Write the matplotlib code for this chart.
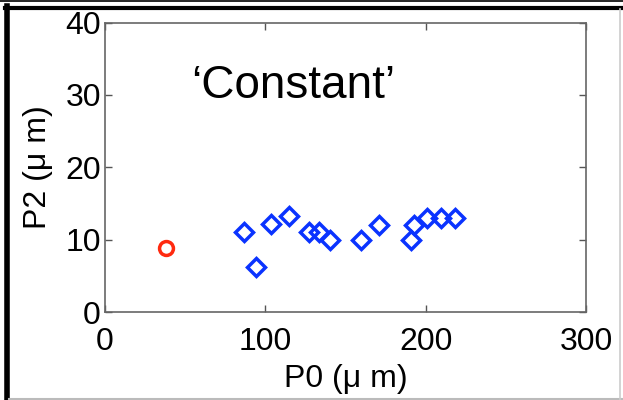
import matplotlib
matplotlib.use("Agg")
import matplotlib.pyplot as plt
from matplotlib.lines import Line2D

# ---- data ----
ref_p0 = [37.8]
ref_p2 = [8.9]

p0 = [86.5, 94.4, 103.3, 114.9, 127.0, 133.4, 140.4, 159.7, 170.9, 190.7, 192.9, 200.8, 209.7, 218.4]
p2 = [11.1, 6.2, 12.2, 13.2, 11.0, 11.0, 10.0, 10.0, 12.0, 10.0, 12.0, 13.0, 13.0, 13.0]

xticks = [0, 100, 200, 300]
yticks = [0, 10, 20, 30, 40]

plt.rcParams["font.family"] = ["Liberation Sans", "DejaVu Sans"]

fig = plt.figure(figsize=(6.23, 4.0), dpi=100)
W, H = 623, 400
ax = fig.add_axes([105 / W, 1 - 312 / H, (586 - 105) / W, (312 - 22.5) / H])

ax.plot(ref_p0, ref_p2, linestyle="none", marker="o", markersize=10,
        markerfacecolor="none", markeredgecolor="#ff2a10", markeredgewidth=2.5)
ax.plot(p0, p2, linestyle="none", marker="D", markersize=9,
        markerfacecolor="none", markeredgecolor="#0a33ff", markeredgewidth=2.5)

ax.set_xlim(0, 300)
ax.set_ylim(0, 40)
ax.set_xticks(xticks)
ax.set_yticks(yticks)
ax.tick_params(direction="in", top=True, right=True, length=5, width=1,
               color="#555555", labelsize=23)
ax.tick_params(axis="x", pad=11)
ax.tick_params(axis="y", pad=3)
for s in ax.spines.values():
    s.set_color("#666666")
    s.set_linewidth(1.2)

ax.set_xlabel("P0 (\u03bc m)", fontsize=23, labelpad=5)
ax.set_ylabel("P2 (\u03bc m)", fontsize=23, labelpad=9)

ax.text(0.18, 0.78, "\u2018Constant\u2019", transform=ax.transAxes,
        fontsize=33, ha="left", va="center")

# slide frame around the plot
fig.add_artist(Line2D([0, 1], [1 - 1 / H, 1 - 1 / H], transform=fig.transFigure,
                      color="black", linewidth=1.2))
fig.add_artist(Line2D([5 / W, 1], [1 - 7.5 / H, 1 - 7.5 / H], transform=fig.transFigure,
                      color="black", linewidth=3))
fig.add_artist(Line2D([7 / W, 7 / W], [0, 1 - 6 / H], transform=fig.transFigure,
                      color="black", linewidth=4))
fig.add_artist(Line2D([9 / W, 1], [1.5 / H, 1.5 / H], transform=fig.transFigure,
                      color="#bbbbbb", linewidth=1.5))
fig.add_artist(Line2D([620 / W, 620 / W], [0, 1 - 9 / H], transform=fig.transFigure,
                      color="#cccccc", linewidth=1.2))

fig.savefig("out.png", dpi=100)
